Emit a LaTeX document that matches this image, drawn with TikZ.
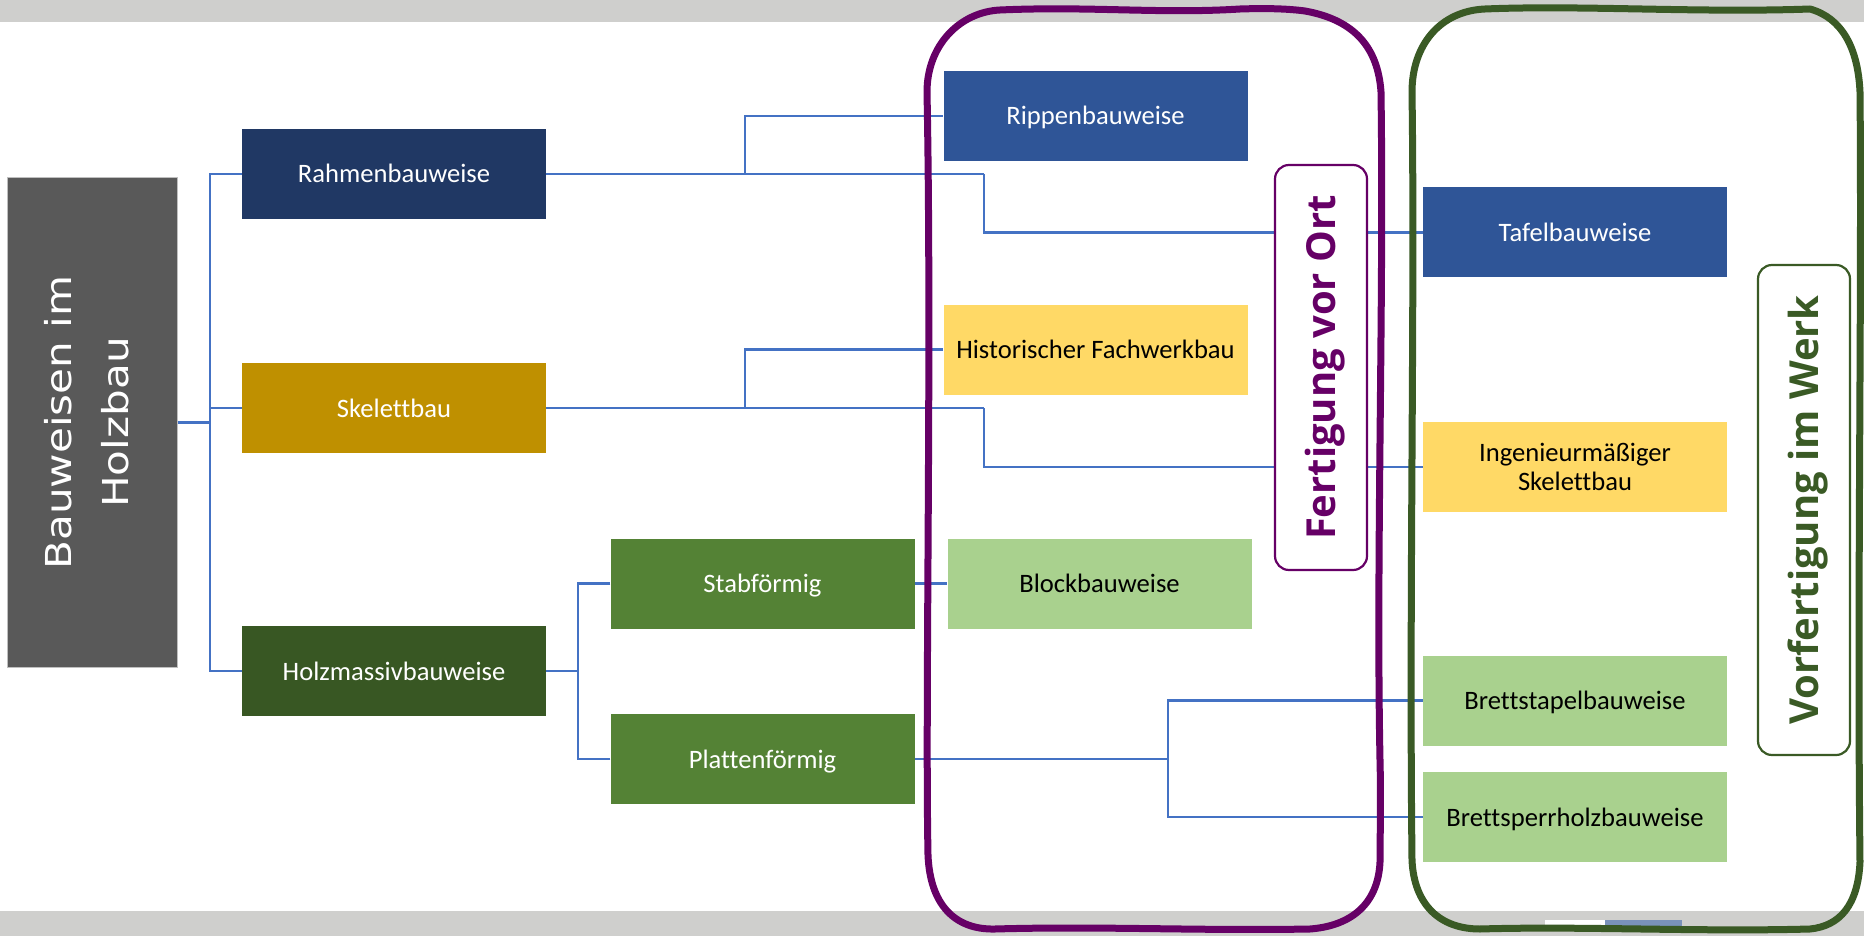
\documentclass[tikz,border=0pt]{standalone}
\usepackage{graphicx}
\usepackage{fontspec}
\setmainfont{Carlito}[Ligatures=NoCommon]
\newfontfamily\rootfont{DejaVu Sans}
\newfontfamily\tagfont{Open Sans}

\definecolor{navy}{HTML}{203864}
\definecolor{gold}{HTML}{BF9000}
\definecolor{forest}{HTML}{385723}
\definecolor{leaf}{HTML}{548235}
\definecolor{royal}{HTML}{2F5597}
\definecolor{butter}{HTML}{FFD966}
\definecolor{mint}{HTML}{A9D18E}
\definecolor{slate}{HTML}{595959}
\definecolor{wire}{HTML}{4472C4}
\definecolor{plum}{HTML}{660066}
\definecolor{moss}{HTML}{3A5A25}
\definecolor{bar}{HTML}{CFCFCD}
\definecolor{tabblue}{HTML}{7A92BA}

\newcommand{\wide}[1]{\scalebox{1.18}[1]{#1}}

\tikzset{
  box/.style={minimum width=304pt, minimum height=90pt, inner sep=0pt,
    font=\fontsize{26.6}{29}\selectfont, text height=20pt, text depth=2pt},
  boxtwo/.style={minimum width=304pt, minimum height=90pt, inner sep=0pt,
    align=center, font=\fontsize{26.6}{29}\selectfont},
  dark/.style={text=white},
  light/.style={text=black},
  wire/.style={draw=wire, line width=2.6pt},
  sketch/.style={line width=7pt, line join=round},
  tag/.style={rotate=90, fill=white, line width=2.2pt, rounded corners=14pt,
    minimum height=92pt, inner sep=0pt,
    font=\tagfont\bfseries\fontsize{40}{48}\selectfont,
    text height=29pt, text depth=0pt}
}

\begin{document}
\begin{tikzpicture}[x=1pt,y=-1pt]
\useasboundingbox (0,0) rectangle (1864,936);
\fill[white] (0,0) rectangle (1864,936);
% grey bands at top and bottom
\fill[bar] (0,0) rectangle (1864,21.7);
\fill[bar] (0,911) rectangle (1864,936);
\fill[white] (1545,920) rectangle (1605,929);
\fill[tabblue] (1605,920) rectangle (1682,929);

% root
\node[fill=slate, draw=white!75!black, line width=1pt, minimum width=170pt,
      minimum height=489pt, inner sep=0pt] (root) at (92,422.5) {};
\node[rotate=90, text=white, align=center, inner sep=0pt,
      font=\rootfont\fontsize{35.7}{57.5}\selectfont] (rootlabel) at (86.5,422.5)
      {\wide{Bauweisen im}\\\wide{Holzbau}};

% first level
\node[box, dark, fill=navy] (rahmen) at (394,174) {Rahmenbauweise};
\node[box, dark, fill=gold] (skelett) at (394,408) {Skelettbau};
\node[box, dark, fill=forest] (holz) at (394,671) {Holzmassivbauweise};

% second level
\node[box, dark, fill=leaf] (stab) at (762.5,583.5) {Stabförmig};
\node[box, dark, fill=leaf] (platten) at (762.5,759) {Plattenförmig};

% on-site construction
\node[box, dark, fill=royal] (rippen) at (1095.5,116) {Rippenbauweise};
\node[box, light, fill=butter] (hist) at (1095.5,349.5) {Historischer Fachwerkbau};
\node[box, light, fill=mint] (block) at (1099.5,583.5) {Blockbauweise};

% prefabrication
\node[box, dark, fill=royal] (tafel) at (1575,232.5) {Tafelbauweise};
\node[boxtwo, light, fill=butter] (ing) at (1575,467) {Ingenieurmäßiger\\Skelettbau};
\node[box, light, fill=mint] (brettst) at (1575,700.5) {Brettstapelbauweise};
\node[box, light, fill=mint] (brettsp) at (1575,817) {Brettsperrholzbauweise};

% branching points
\coordinate (hub) at (210,422.5);
\coordinate (r1) at (745,174);
\coordinate (r2) at (984,174);
\coordinate (s1) at (745,408);
\coordinate (s2) at (984,408);
\coordinate (h1) at (578,671);
\coordinate (p1) at (1168,759);

% connectors
\draw[wire] (root.east) -- (hub);
\draw[wire] (rahmen.west) -| (hub);
\draw[wire] (skelett.west) -| (hub);
\draw[wire] (holz.west) -| (hub);

\draw[wire] (rahmen.east) -- (r2);
\draw[wire] (r1) |- (rippen.west);
\draw[wire] (r2) |- (tafel.west);

\draw[wire] (skelett.east) -- (s2);
\draw[wire] (s1) |- (hist.west);
\draw[wire] (s2) |- (ing.west);

\draw[wire] (holz.east) -- (h1);
\draw[wire] (stab.west) -| (h1);
\draw[wire] (platten.west) -| (h1);
\draw[wire] (stab.east) -- (block.west);

\draw[wire] (platten.east) -- (p1);
\draw[wire] (brettst.west) -| (p1);
\draw[wire] (brettsp.west) -| (p1);

% group labels
\node[tag, draw=plum, text=plum, minimum width=405pt] (ort) at (1321,367.5) {Fertigung vor Ort};
\node[tag, draw=moss, text=moss, minimum width=490pt] (werk) at (1804,510) {Vorfertigung im Werk};

% hand-drawn outline: on-site
\draw[sketch, plum]
  (1000,10) .. controls (1090,6) and (1160,14) .. (1240,9)
  .. controls (1270,8) and (1290,9) .. (1305,11)
  .. controls (1355,20) and (1378,48) .. (1381,92)
  .. controls (1384,300) and (1376,560) .. (1380,760)
  .. controls (1381,800) and (1380,840) .. (1380,862)
  .. controls (1378,905) and (1350,926) .. (1310,929)
  .. controls (1200,931) and (1100,926) .. (995,929)
  .. controls (955,930) and (930,905) .. (928,855)
  .. controls (925,700) and (932,350) .. (927,92)
  .. controls (927,45) and (960,12) .. (1000,10) -- cycle;

% hand-drawn outline: prefabrication
\draw[sketch, moss]
  (1485,9) .. controls (1580,5) and (1700,13) .. (1810,9)
  .. controls (1842,18) and (1858,48) .. (1860,92)
  .. controls (1862,300) and (1857,600) .. (1860,862)
  .. controls (1858,905) and (1840,926) .. (1810,929)
  .. controls (1700,932) and (1580,926) .. (1480,929)
  .. controls (1440,929) and (1414,905) .. (1412,860)
  .. controls (1409,600) and (1415,300) .. (1412,92)
  .. controls (1412,45) and (1440,11) .. (1485,9) -- cycle;
\end{tikzpicture}
\end{document}
